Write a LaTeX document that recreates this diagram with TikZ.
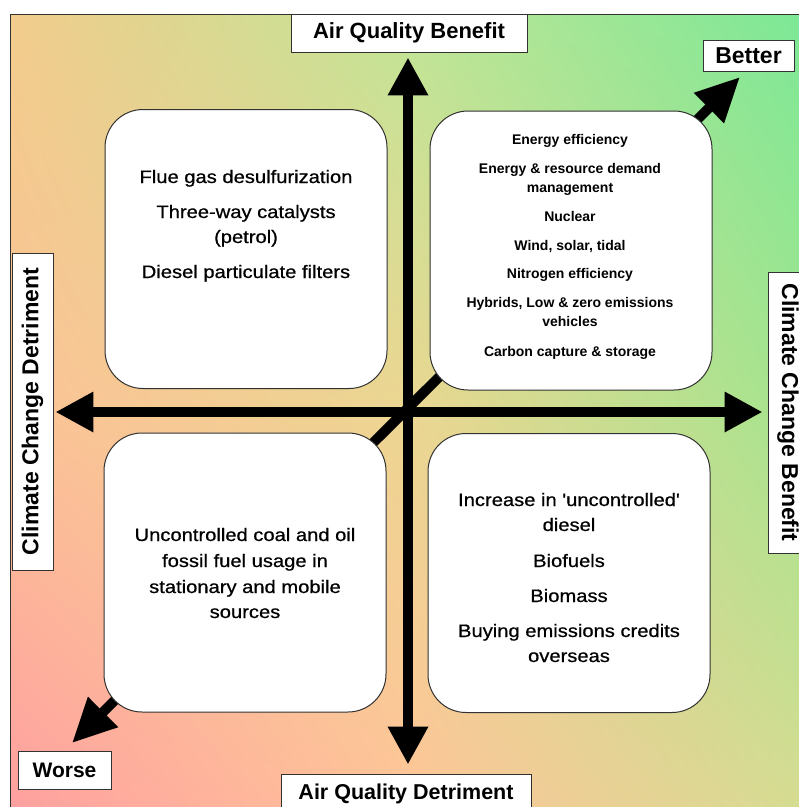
\documentclass[tikz,border=0pt]{standalone}
\usepackage{fontspec}
\setmainfont{Liberation Sans}
\newfontfamily\medfont{Liberation Sans}[FakeBold=0.6]
\usepackage{graphicx}
\usetikzlibrary{arrows.meta,calc,shadings}
\definecolor{cTL}{RGB}{242,204,140}
\definecolor{cT}{RGB}{192,229,150}
\definecolor{cTR}{RGB}{124,232,150}
\definecolor{cL}{RGB}{252,194,150}
\definecolor{cC}{RGB}{236,214,146}
\definecolor{cR}{RGB}{165,228,142}
\definecolor{cBL}{RGB}{255,160,160}
\definecolor{cB}{RGB}{255,196,152}
\definecolor{cBR}{RGB}{214,220,146}
\definecolor{edge}{RGB}{50,50,50}
\newcommand\wx[1]{\scalebox{1.12}[1]{#1}}
\begin{document}
\begin{tikzpicture}[x=1pt,y=-1pt,
  lab/.style={draw=edge, fill=white, line width=0.9pt, inner sep=0pt,
    font=\fontsize{22}{26}\selectfont\bfseries},
  qbox/.style={draw=edge, fill=white, line width=1pt, rounded corners=38pt,
    minimum width=282pt, minimum height=279pt, inner sep=0pt},
  qt/.style={anchor=base, inner sep=0pt, font=\medfont\fontsize{18}{22}\selectfont},
  qtb/.style={anchor=base, inner sep=0pt, font=\fontsize{14}{17}\selectfont\bfseries},
  axisarrow/.style={line width=10pt,
    arrows={Triangle[length=38pt,width=38pt]-Triangle[length=38pt,width=38pt]}},
  diagarrow/.style={line width=10pt,
    arrows={Triangle[length=44pt,width=40pt]-Triangle[length=44pt,width=40pt]}}]
\useasboundingbox (0,0) rectangle (799,807);
% background gradient
\shade[upper left=cTL, upper right=cT, lower left=cL, lower right=cC] (10,14) rectangle (405.5,411.5);
\shade[upper left=cT, upper right=cTR, lower left=cC, lower right=cR] (405,14) rectangle (800,411.5);
\shade[upper left=cL, upper right=cC, lower left=cBL, lower right=cB] (10,411) rectangle (405.5,808);
\shade[upper left=cC, upper right=cR, lower left=cB, lower right=cBR] (405,411) rectangle (800,808);
\draw[edge, line width=1pt] (10,808) -- (10,14) -- (800,14);

% axis labels
\node[lab, minimum width=236pt, minimum height=38pt] (aqb) at (409,33) {Air Quality Benefit};
\node[lab, minimum width=250pt, minimum height=40pt, font=\fontsize{21.5}{26}\selectfont\bfseries] (aqd) at (406,794) {Air Quality Detriment};
\node[lab, minimum width=91pt, minimum height=31pt, font=\fontsize{23}{26}\selectfont\bfseries] (better) at (748.5,55.5) {Better};
\node[lab, minimum width=93pt, minimum height=38pt, font=\fontsize{21}{26}\selectfont\bfseries] (worse) at (64.5,770) {Worse};
\node[lab, rotate=90, minimum width=317pt, minimum height=41pt, font=\fontsize{23}{26}\selectfont\bfseries] (ccd) at (32.5,411.5) {Climate Change Detriment};
\node[lab, rotate=-90, minimum width=281pt, minimum height=40pt, font=\fontsize{23}{26}\selectfont\bfseries] (ccb) at (788,412.5) {Climate Change Benefit};

% arrows
\coordinate (c) at (408,412);
\coordinate (wtip) at (72,743);
\coordinate (btip) at (740,77);
\draw[diagarrow] (wtip) -- (btip);
\draw[axisarrow, shorten <=2pt, shorten >=5pt] (ccd.south |- c) -- (ccb.south |- c);
\draw[axisarrow, shorten <=5pt, shorten >=9pt] (aqb.south -| c) -- (aqd.north -| c);

% quadrant boxes
\node[qbox] (tlbox) at (246,249) {};
\node[qbox] (trbox) at (571,250.5) {};
\node[qbox] (blbox) at (245,572.5) {};
\node[qbox] (brbox) at (569,573) {};

% top-left text
\node[qt] (tl1) at (246,183) {\wx{Flue gas desulfurization}};
\node[qt] (tl2) at (246,218) {\wx{Three-way catalysts}};
\node[qt] (tl3) at (246,243) {\wx{(petrol)}};
\node[qt] (tl4) at (246,278) {\wx{Diesel particulate filters}};

% top-right text
\node[qtb] (tr1) at (570,144) {Energy efficiency};
\node[qtb] (tr2) at (570,173) {Energy \& resource demand};
\node[qtb] (tr3) at (570,192) {management};
\node[qtb] (tr4) at (570,221) {Nuclear};
\node[qtb] (tr5) at (570,250) {Wind, solar, tidal};
\node[qtb] (tr6) at (570,278) {Nitrogen efficiency};
\node[qtb] (tr7) at (570,307) {Hybrids, Low \& zero emissions};
\node[qtb] (tr8) at (570,326) {vehicles};
\node[qtb] (tr9) at (570,356) {Carbon capture \& storage};

% bottom-left text
\node[qt] (bl1) at (245,541) {\wx{Uncontrolled coal and oil}};
\node[qt] (bl2) at (245,567) {\wx{fossil fuel usage in}};
\node[qt] (bl3) at (245,593) {\wx{stationary and mobile}};
\node[qt] (bl4) at (245,618) {\wx{sources}};

% bottom-right text
\node[qt] (br1) at (569,506) {\wx{Increase in \textquotesingle uncontrolled\textquotesingle}};
\node[qt] (br2) at (569,531) {\wx{diesel}};
\node[qt] (br3) at (569,567) {\wx{Biofuels}};
\node[qt] (br4) at (569,602) {\wx{Biomass}};
\node[qt] (br5) at (569,637) {\wx{Buying emissions credits}};
\node[qt] (br6) at (569,662) {\wx{overseas}};
\end{tikzpicture}
\end{document}
